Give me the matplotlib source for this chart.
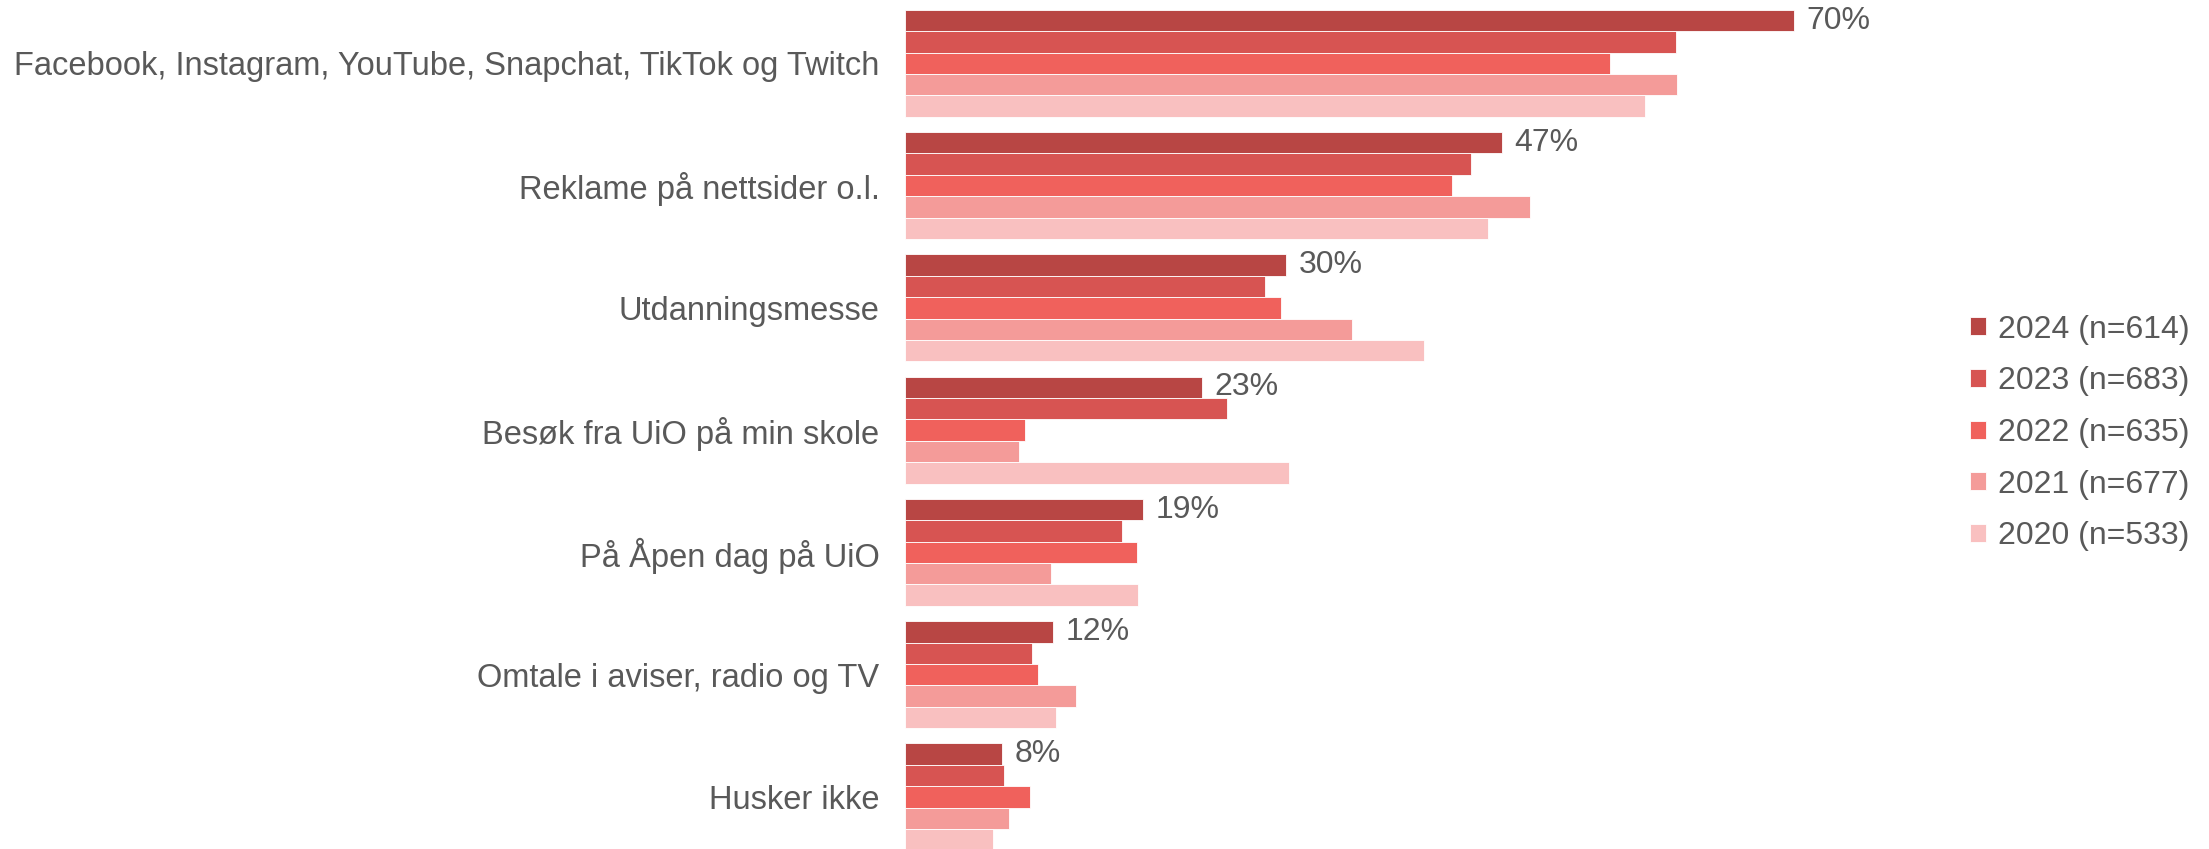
import numpy as np
import matplotlib
matplotlib.use("Agg")
import matplotlib.pyplot as plt

plt.rcParams["font.family"] = ["Liberation Sans", "DejaVu Sans"]

categories = [
    "Facebook, Instagram, YouTube, Snapchat, TikTok og Twitch",
    "Reklame på nettsider o.l.",
    "Utdanningsmesse",
    "Besøk fra UiO på min skole",
    "På Åpen dag på UiO",
    "Omtale i aviser, radio og TV",
    "Husker ikke",
]
series = ["2024 (n=614)", "2023 (n=683)", "2022 (n=635)", "2021 (n=677)", "2020 (n=533)"]
v2024 = [70, 47, 30, 23.4, 18.8, 11.7, 7.7]
v2023 = [60.7, 44.6, 28.4, 25.4, 17.1, 10.0, 7.8]
v2022 = [55.5, 43.1, 29.6, 9.5, 18.3, 10.5, 9.9]
v2021 = [60.8, 49.2, 35.2, 9.0, 11.5, 13.5, 8.2]
v2020 = [58.3, 45.9, 40.9, 30.3, 18.4, 11.9, 7.0]
labels_2024 = ["70%", "47%", "30%", "23%", "19%", "12%", "8%"]

colors = ["#b84644", "#d75452", "#f0615c", "#f49b99", "#f9c0c0"]
text_col = "#595959"

fig = plt.figure(figsize=(22.09, 8.49), dpi=100)
ax = fig.add_axes([0.4095, -0.0106, 0.46, 1.008])

y = np.arange(len(categories))
h = 0.175
for k, (name, vals) in enumerate(zip(series, [v2024, v2023, v2022, v2021, v2020])):
    pos = y - 2.5 * h + (k + 0.5) * h
    ax.barh(pos, vals, height=h, color=colors[k], edgecolor="white", linewidth=0.6, label=name)

for i, (v, lab) in enumerate(zip(v2024, labels_2024)):
    ax.text(v + 1.0, y[i] - 2 * h, lab, va="center", ha="left", fontsize=23, color=text_col)

ax.set_ylim(len(categories) - 0.5, -0.5)
ax.set_xlim(0, 80)
ax.set_yticks(y)
ax.set_yticklabels(categories, fontsize=23.5, color=text_col)
ax.tick_params(axis="y", length=0, pad=18)
ax.set_xticks([])
for s in ax.spines.values():
    s.set_visible(False)

leg = fig.legend(loc="center left", bbox_to_anchor=(0.879, 0.49), frameon=False,
                 fontsize=23, handlelength=0.5, handleheight=0.5, handletextpad=0.35,
                 labelspacing=0.68, labelcolor=text_col)

fig.savefig("out.png", dpi=100)
